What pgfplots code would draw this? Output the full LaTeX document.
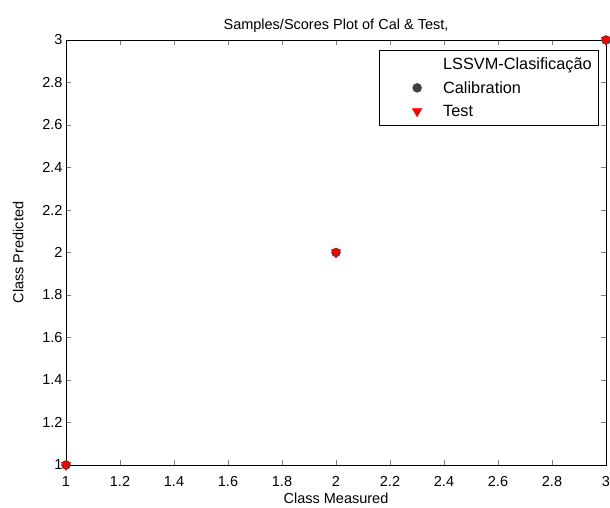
\documentclass[border=0pt]{standalone}
\usepackage{pgfplots}
\pgfplotsset{compat=1.18}
\usepackage{fontspec}
\setmainfont{Liberation Sans}
\definecolor{calgray}{RGB}{64,64,64}
\begin{document}
\begin{tikzpicture}
\path[use as bounding box] (-66pt,-42pt) rectangle (544pt,465pt);
\begin{axis}[
  at={(0,0)}, anchor=south west,
  scale only axis, width=540pt, height=425pt,
  xmin=1, xmax=3, ymin=1, ymax=3,
  xtick={1,1.2,...,3.01}, ytick={1,1.2,...,3.01},
  tick align=inside, major tick length=5pt,
  xticklabel style={/pgf/number format/fixed, /pgf/number format/precision=1, yshift=-8pt},
  yticklabel style={/pgf/number format/fixed, /pgf/number format/precision=1},
  /pgf/number format/assume math mode=true,
  tick label style={font=\fontsize{14.5}{16}\selectfont},
  label style={font=\fontsize{14.5}{16}\selectfont},
  title style={font=\fontsize{14.5}{16}\selectfont, yshift=-2pt},
  title={Samples/Scores Plot of Cal \& Test,},
  xlabel={Class Measured}, ylabel={Class Predicted},
  xlabel style={yshift=1pt}, ylabel style={yshift=12pt},
  clip=false,
  legend style={at={(0.985,0.976)}, anchor=north east, font=\fontsize{16.3}{18}\selectfont, draw=black, row sep=6.5pt, inner xsep=4pt, inner ysep=5pt},
  legend cell align=left,
  legend image code/.code={\path[draw=none] (0pt,0pt) -- (58pt,0pt); \path[#1] plot coordinates {(34pt,0pt)};},
]
\addlegendimage{empty legend}
\addlegendentry{LSSVM-Clasificação}
\addplot[only marks, mark=*, mark size=4.5pt, color=calgray] coordinates {(1,1) (2,2) (3,3)};
\addlegendentry{Calibration}
\addplot[only marks, mark=triangle*, mark options={rotate=180}, mark size=5.5pt, color=red] coordinates {(1,1) (2,2) (3,3)};
\addlegendentry{Test}
\end{axis}
\end{tikzpicture}
\end{document}
